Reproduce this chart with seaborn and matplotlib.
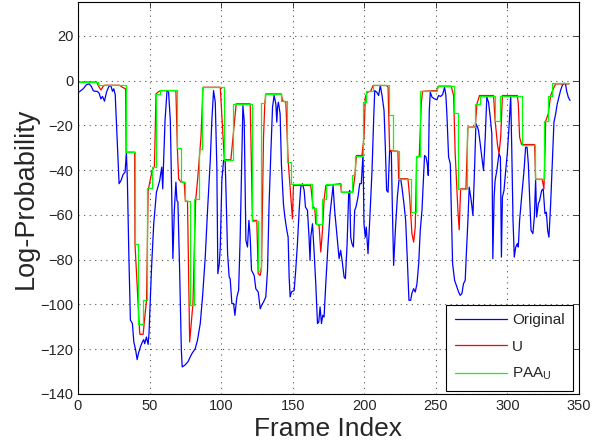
import numpy as np
import pandas as pd
import matplotlib
matplotlib.use("Agg")
import matplotlib.pyplot as plt
import seaborn as sns

# original log-probability curve (frame, value)
orig_frame = [0, 1, 3.6, 6, 7.8, 9.4, 10.6, 11.7, 13.4, 14.8, 16, 17.1, 18.5, 19.9, 21.5, 22.9, 24.1, 25, 26, 27.3,
              28.7, 30.1, 31.5, 32.9, 33.8, 34.5, 35.5, 36.6, 38, 39, 40.3, 41.3, 42.2, 43.6, 45, 45.9, 46.6, 47.8,
              49, 49.6, 51.3, 52.9, 54.8, 57.1, 58.5, 59.2, 59.6, 60.8, 62.2, 63.3, 64.5, 65.6, 66.3, 67.3, 68.4,
              69.1, 69.8, 71, 72.2, 72.8, 75, 77, 78.4, 79.6, 81.9, 83.5, 85.4, 87, 88.9, 90.5, 92.4, 93.5, 94.7,
              95.9, 97, 97.7, 98.7, 99.4, 100.5, 101.7, 102.8, 103.5, 104.5, 105.6, 106.3, 107.5, 108.7, 109.6,
              111, 112.2, 113.3, 114.5, 115.2, 116.1, 116.8, 117.3, 118.4, 119.4, 120.3, 121.2, 123.1, 124.2,
              125.9, 127.3, 128.2, 129.6, 131.2, 132.4, 133.5, 134.7, 135.9, 137, 138.2, 138.9, 139.4, 140, 141.2,
              142.1, 143.5, 144.5, 145.9, 146.8, 147.5, 148.2, 149.1, 151, 152.1, 153.3, 154.5, 155.6, 156.8, 158,
              158.9, 160.3, 161.4, 162.1, 162.6, 163.8, 164.9, 166.1, 167.3, 168.2, 169.1, 170.1, 171, 171.9,
              173.1, 174.7, 176.1, 178.2, 179.3, 181.2, 182.4, 183.5, 184.5, 185.9, 186.8, 188, 189.1, 189.8,
              190.5, 191.4, 192.4, 193.3, 194.2, 195.6, 196.8, 197.9, 199.1, 199.8, 200.7, 201.4, 202.6, 203.8,
              205.4, 206.6, 207.3, 208.7, 210, 211.2, 212.4, 213.8, 214.7, 215.6, 216.6, 217.7, 218.9, 219.6,
              220.5, 221.7, 223.1, 224.2, 225.4, 226.3, 227.7, 228.9, 230, 231.2, 232.4, 233.3, 234.5, 235.6,
              236.8, 238, 239.1, 240.3, 241.4, 242.1, 243.1, 244, 244.7, 245.4, 246.1, 247.3, 249.1, 250.7, 251.9,
              253.3, 254.7, 256.1, 257, 257.7, 258.9, 260.1, 260.7, 261.7, 263.1, 264.7, 265.9, 267, 268.2, 269.3,
              270.5, 271.2, 272.4, 273.3, 274.7, 275.9, 277, 278, 279.1, 279.8, 281, 282.1, 283.3, 284.5, 285.6,
              286.8, 288, 289.1, 289.8, 290.7, 291.4, 292.6, 294.1, 295.1, 295.8, 296.5, 297.6, 298.8, 299.9,
              301.1, 302.3, 303, 303.9, 304.8, 305.8, 306.9, 307.6, 308.5, 309.9, 311.6, 312.7, 313.7, 314.6,
              315.5, 316.5, 317.8, 318.8, 319.7, 320.4, 321.6, 322.5, 323.9, 325, 326.2, 327.2, 328.1, 329, 330.2,
              331.3, 332.5, 333.7, 334.8, 336, 337.1, 338.3, 339.5, 340.6, 341.3, 342.5, 343.7]
orig_value = [-5.2, -5, -3.7, -1.8, -1.5, -2.7, -4.5, -4.8, -4.8, -5.7, -8.2, -7.1, -9.2, -5.2, -2.7, -2.2, -4.8, -3.7,
              -6.3, -25.3, -46.1, -44.6, -42, -40.9, -32, -44.6, -77.4, -107, -108.6, -116.8, -120.5, -124.7, -122,
              -119, -116.8, -115.8, -117.6, -114.6, -117.9, -113.1, -84.8, -64, -49.9, -44.6, -38.7, -48.4, -40,
              -17.9, -4.5, -5.2, -17.9, -55, -79.6, -58, -45.4, -53.6, -54.3, -84.8, -120.5, -128, -127, -125.5,
              -123.5, -122, -119.8, -116, -108.6, -96.7, -78.9, -58, -35.7, -17.9, -4.5, -9.7, -38.7, -86.3, -81.9,
              -74.4, -44.6, -35.7, -35.7, -52.1, -77.4, -87.8, -88.5, -99.7, -99.7, -104.9, -96.7, -93.8, -70,
              -32.7, -11.2, -17.9, -47.6, -71.4, -74.4, -62.5, -70, -84.8, -87.1, -93, -94.5, -102, -100.5, -99,
              -96.7, -84.8, -55, -32.7, -11.9, -6.7, -10.4, -18.6, -11.9, -9.7, -14.9, -37.2, -55, -61, -67, -70,
              -87.8, -96.7, -94.5, -93.8, -84.8, -72.9, -58, -47.6, -46.1, -49.1, -56.5, -58, -70, -80.4, -70, -64,
              -75.9, -90.8, -108.6, -107.9, -101.2, -108.6, -104.9, -105.7, -90.8, -72.9, -59.5, -46.9, -58, -71.4,
              -79.6, -75.9, -80.4, -87.8, -88.5, -72.9, -50.6, -49.1, -70, -72.9, -74.4, -58, -56.5, -52.1, -46.1,
              -46.1, -32.7, -64, -70, -65.5, -77.4, -62.5, -40.2, -16.4, -4.5, -5.2, -6.7, -2.2, -6.7, -13.4,
              -29.8, -49.1, -49.9, -31.3, -32, -56.5, -82.6, -67, -52.1, -44.6, -43.9, -47.6, -55, -62.5, -78.9,
              -98.2, -98.2, -95, -93, -94.5, -90.8, -81.9, -67, -58, -43.2, -33.5, -34.2, -37.2, -42.4, -13.4, -5.2,
              -7.4, -8.2, -8.6, -6.7, -7.1, -6.3, -3, -6.7, -14.9, -34.2, -37.2, -55, -81.9, -89.3, -92.3, -94.5,
              -96, -95.2, -90.8, -89.3, -78.9, -62.5, -47.6, -53.6, -60.3, -40.2, -19.3, -20.8, -22.3, -28.3,
              -34.2, -40.2, -25.3, -7.4, -9.7, -16.4, -23.8, -79.6, -52.1, -44.6, -40.2, -32.7, -34.2, -78.9,
              -52.1, -49.1, -40.2, -32.7, -20.8, -6.7, -29.8, -62.5, -78.9, -74.4, -72.9, -74.4, -62.5, -52.1,
              -40.2, -29.8, -29.8, -37.2, -52.1, -67, -68.4, -61, -44.6, -61, -55, -53.6, -49.1, -48.4, -59.5,
              -58.8, -67, -70, -55, -37.2, -18.6, -14.9, -10.4, -7.4, -4.5, -2.2, -1.2, -1.5, -4.5, -7.4, -8.9]

# U curve (frame, value)
u_frame = [0, 13, 14.5, 16, 17.5, 18.5, 29, 31, 33.3, 33.6, 39.6, 39.8, 42.7, 43.2, 45.5, 46.9, 47.9, 49, 51.8, 53.4,
           54.5, 55.8, 57.6, 68.4, 69.4, 70.3, 72, 74.2, 75, 76.5, 78, 79.1, 80.3, 81.2, 82.2, 83.5, 85, 85.9, 87.3,
           87.5, 99.4, 102.2, 106.8, 110.5, 120.3, 121.9, 124.9, 125.9, 127.3, 128.2, 129.6, 130.5, 131.2, 142.1,
           142.8, 145.2, 146.8, 149.8, 150.5, 162.6, 164.2, 165.4, 166.1, 168.4, 169.6, 170.8, 171.9, 173.1,
           183.5, 184, 192, 193.3, 194.5, 198.4, 199.8, 200.7, 202.1, 204.5, 206.1, 215.6, 216.6, 217.7, 223.5,
           224, 230.5, 231.7, 233.3, 234.5, 235.6, 236.6, 238.4, 239.8, 240.7, 250.7, 251.9, 260.7, 262.4, 263.5,
           265.4, 266.3, 267.3, 271, 272.4, 277.5, 278.7, 280.5, 290.3, 291.4, 293, 294.1, 295.3, 296.5, 306.9,
           307.6, 308.5, 309.9, 319, 319.7, 324.3, 325.5, 326.2, 326.7, 328.5, 330.2, 332.5, 333.7, 343]
u_value = [-0.7, -0.7, -2.7, -4.2, -2.7, -2.1, -2.1, -3, -3.7, -32, -32, -72.9, -108.6, -113.4, -113.4, -104.2, -98.2,
           -49.1, -40.2, -38.4, -6, -5.2, -4.5, -4.5, -30, -44, -45.4, -45.4, -53.9, -53.9, -116.8, -108.6, -99.7,
           -77.4, -53.6, -44.6, -32.7, -25.3, -3.7, -3, -3, -35.4, -35.4, -10.4, -10.4, -62.5, -62.5, -86.3, -87.1,
           -83, -25.3, -10.4, -6, -6, -8.9, -9.7, -35.7, -61.8, -46.9, -46.9, -56.5, -57, -64, -64.7, -76.6, -67,
           -53.6, -46.9, -46.1, -49.9, -49.9, -43.2, -33.5, -33.5, -25, -7.4, -5.2, -4.8, -2.2, -2.2, -3, -31.3,
           -31.6, -43.9, -43.9, -52.1, -68.5, -72.2, -65.5, -34.2, -33.9, -10.4, -4.8, -4.5, -2.5, -2.5, -6.7,
           -32.7, -58, -66.7, -48.4, -48.4, -20.8, -20.8, -10.4, -6.7, -6.7, -17.9, -28.3, -32.7, -25.3, -6.7,
           -6.7, -10.4, -25.3, -28.6, -28.6, -44.1, -44.1, -48.4, -32.7, -18.2, -14.9, -6.7, -3, -1.5, -1.5]

# PAA of U: segment edges and segment levels
paa_edges = [0, 14, 33.4, 39.7, 42.2, 45.5, 48.3, 51.7, 54.3, 57, 69.1, 71.9, 75, 78, 80.8, 84.2, 86.6, 101.7, 108.2,
             121.9, 125.4, 127.7, 130.5, 142.1, 145.9, 148.7, 163.8, 166.1, 170.8, 173.1, 183.5, 191.4, 193.8,
             199.1, 201.4, 206.1, 217, 220, 224, 232.4, 236.1, 239.1, 250.7, 262.4, 265.4, 271.7, 277.5, 280.5,
             291.4, 294.6, 309.9, 319.2, 325.5, 328.3, 331.3, 343]
paa_levels = [-0.7, -2.1, -32, -73, -108.6, -98.2, -48, -38.7, -6, -4.2, -30, -45.4, -53.9, -100.5, -52.8, -30.5,
              -3, -35.4, -10.4, -62.8, -85.1, -10.1, -6, -9.2, -36.5, -46.1, -56.8, -64.3, -52.8, -46.1, -49.9,
              -42.4, -33.5, -9.7, -4.8, -2.2, -15.6, -31.6, -43.9, -58.8, -33.9, -4.5, -2.5, -14.6, -48.4, -20.8,
              -10.4, -6.7, -17.9, -6.7, -28.6, -44.1, -18.2, -6.7, -1.2]

x_ticks = list(range(0, 351, 50))
y_ticks = list(range(-140, 21, 20))

sns.set_style("white")
plt.rcParams['font.family'] = ['Liberation Sans', 'DejaVu Sans']
plt.rcParams['mathtext.fontset'] = 'custom'
plt.rcParams['mathtext.rm'] = 'Liberation Sans'
plt.rcParams['mathtext.it'] = 'Liberation Sans'

fig = plt.figure(figsize=(6, 4.44), dpi=100)
ax = fig.add_axes([0.13, 0.113, 0.835, 0.882])

sns.lineplot(x=orig_frame, y=orig_value, estimator=None, sort=False, color='#0000ff',
             linewidth=0.9, label='Original', ax=ax)
sns.lineplot(x=u_frame, y=u_value, estimator=None, sort=False, color='#ff0000',
             linewidth=0.9, label='U', ax=ax)
sns.lineplot(x=paa_edges, y=paa_levels + [paa_levels[-1]], estimator=None, sort=False,
             drawstyle='steps-post', color='#00ff00', linewidth=0.9, label='PAA$_\\mathrm{U}$', ax=ax)

ax.set_xlim(0, 350)
ax.set_ylim(-140, 35)
ax.set_xticks(x_ticks)
ax.set_yticks(y_ticks)
ax.tick_params(direction='in', top=True, right=True, length=4, labelsize=10.5, width=0.6)
ax.grid(True, linestyle=(0, (1, 4)), color='#555555', linewidth=0.8)
for s in ax.spines.values():
    s.set_color('black')
    s.set_linewidth(0.8)
ax.set_xlabel('Frame Index', fontsize=19, labelpad=3)
ax.set_ylabel('Log-Probability', fontsize=19.5, labelpad=1)

leg = ax.legend(loc='lower right', bbox_to_anchor=(0.988, 0.008), fancybox=False,
                edgecolor='black', framealpha=1, handlelength=3.4, fontsize=11,
                borderaxespad=0.0, labelspacing=0.8, borderpad=0.55, handletextpad=0.35)
leg.get_frame().set_linewidth(0.8)

fig.savefig('out.png', dpi=100)
